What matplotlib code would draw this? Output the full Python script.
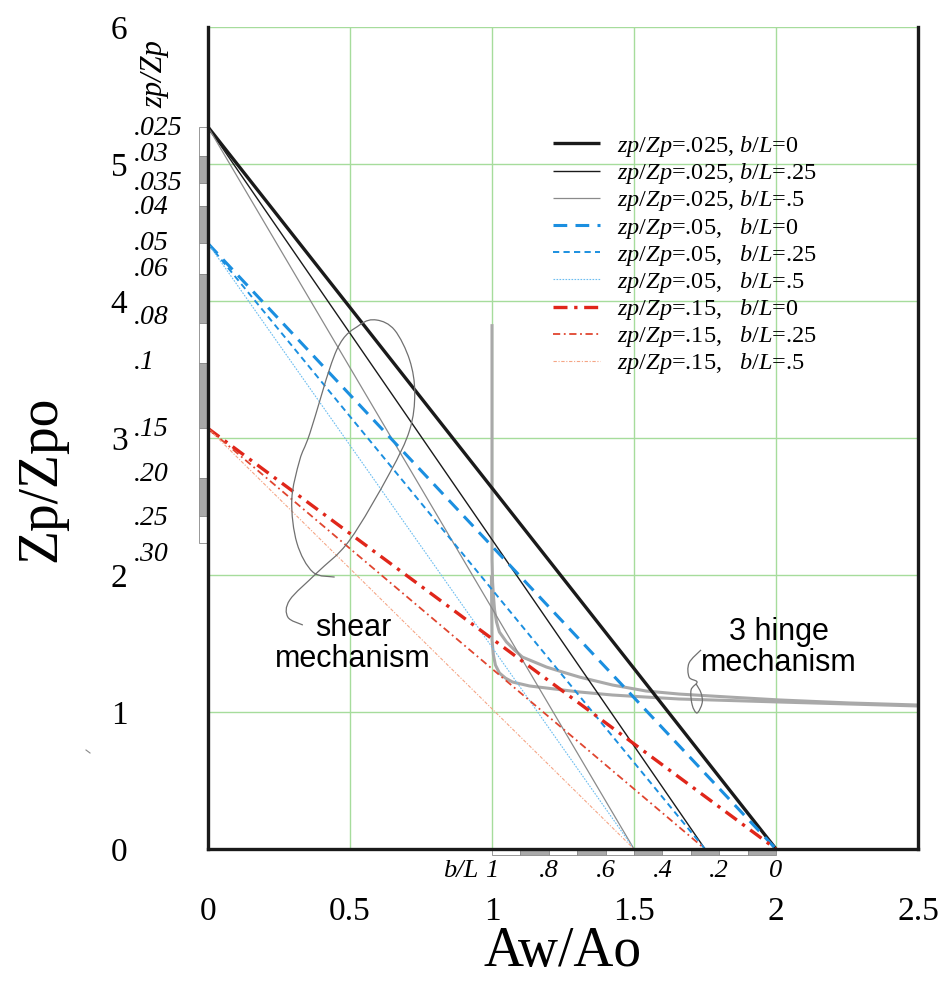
import numpy as np
import matplotlib
matplotlib.use("Agg")
import matplotlib.pyplot as plt
from matplotlib.lines import Line2D
from matplotlib.patches import Rectangle, PathPatch
from matplotlib.path import Path

plt.rcParams['font.family'] = ['Liberation Serif', 'DejaVu Serif']
plt.rcParams['mathtext.fontset'] = 'custom'
plt.rcParams['mathtext.it'] = 'Liberation Serif:italic'
plt.rcParams['mathtext.rm'] = 'Liberation Serif'

# ---------------- data ----------------
zp_ratio = [0.025, 0.05, 0.15]            # zp/Zp
zp_intercept = [5.27, 4.42, 3.07]         # Zp/Zpo at Aw/Ao = 0
bL_values = [0.0, 0.25, 0.5]              # b/L
bL_end = [2.0, 1.75, 1.5]                 # Aw/Ao where Zp/Zpo = 0

# 3 hinge mechanism curves
hinge_a_x = [1.0, 1.0, 1.002, 1.005, 1.009, 1.016, 1.026, 1.051, 1.079, 1.107, 1.149, 1.192,
             1.248, 1.308, 1.424, 1.543, 1.659, 1.835, 2.011, 2.257, 2.499]
hinge_a_y = [3.82, 2.11, 1.95, 1.85, 1.745, 1.657, 1.584, 1.511, 1.453, 1.401, 1.365, 1.328,
             1.292, 1.255, 1.197, 1.153, 1.131, 1.109, 1.088, 1.066, 1.051]
hinge_b_x = [0.998, 1.0, 1.005, 1.012, 1.026, 1.047, 1.072, 1.132, 1.192, 1.308, 1.424, 1.543,
             1.659, 2.011, 2.499]
hinge_b_y = [1.985, 1.526, 1.416, 1.343, 1.285, 1.248, 1.219, 1.190, 1.175, 1.146, 1.124, 1.109,
             1.095, 1.073, 1.044]

# left scale (zp/Zp) boundaries and labels
scale_zp = ['.025', '.03', '.035', '.04', '.05', '.06', '.08', '.1', '.15', '.20', '.25', '.30']
scale_bound = [5.27, 5.06, 4.86, 4.69, 4.42, 4.20, 3.84, 3.55, 3.07, 2.71, 2.43, 2.23]
scale_label_y = [5.26, 5.07, 4.86, 4.68, 4.42, 4.23, 3.88, 3.55, 3.06, 2.73, 2.41, 2.15]

# bottom scale (b/L)
bL_ticks = [1, 0.8, 0.6, 0.4, 0.2, 0]
bL_tick_labels = ['1', '.8', '.6', '.4', '.2', '0']

x_ticks = [0, 0.5, 1, 1.5, 2, 2.5]
x_tick_labels = ['0', '0.5', '1', '1.5', '2', '2.5']
y_ticks = [0, 1, 2, 3, 4, 5, 6]

# hand-drawn annotation loops (data units)
shear_loop = [(0.446, 1.985), (0.369, 2.022), (0.313, 2.234), (0.295, 2.547), (0.323, 2.839),
              (0.359, 3.036), (0.453, 3.642), (0.534, 3.825), (0.594, 3.861), (0.657, 3.788),
              (0.710, 3.569), (0.728, 3.328), (0.710, 3.058), (0.640, 2.745), (0.499, 2.255),
              (0.383, 2.015), (0.288, 1.818), (0.281, 1.693), (0.334, 1.635)]
hinge_loop = [(1.736, 1.453), (1.694, 1.358), (1.694, 1.255), (1.722, 1.219), (1.701, 1.161),
              (1.705, 1.051), (1.722, 0.993), (1.740, 1.066), (1.736, 1.139), (1.719, 1.204)]

# ---------------- styles ----------------
styles = {
    (0, 0): dict(color='#1a1a1a', lw=2.4, ls='-'),
    (0, 1): dict(color='#1a1a1a', lw=1.0, ls='-'),
    (0, 2): dict(color='#8a8a8a', lw=0.9, ls='-'),
    (1, 0): dict(color='#1b8fe0', lw=2.2, ls=(0, (4.5, 2.7))),
    (1, 1): dict(color='#1b8fe0', lw=1.4, ls=(0, (3.2, 2.2))),
    (1, 2): dict(color='#6cbdf0', lw=0.8, ls=(0, (1.5, 1.2))),
    (2, 0): dict(color='#e0261a', lw=2.4, ls=(0, (4.2, 2.0, 1.0, 2.0))),
    (2, 1): dict(color='#e0452f', lw=1.3, ls=(0, (4.0, 2.0, 1.0, 2.0))),
    (2, 2): dict(color='#f5a585', lw=0.8, ls=(0, (3.0, 1.5, 1.0, 1.5))),
}

fig = plt.figure(figsize=(9.45, 9.96), dpi=100)
ax = fig.add_axes([208/945, 147/996, 710/945, 822/996])
ax.set_xlim(0, 2.5)
ax.set_ylim(0, 6)

ax.set_xticks(x_ticks)
ax.set_xticklabels(x_tick_labels)
ax.set_yticks(y_ticks)
ax.tick_params(axis='both', length=0, labelsize=24)
ax.tick_params(axis='x', pad=34)
ax.tick_params(axis='y', pad=58)
ax.grid(True, color='#a6dc9c', lw=1.0, zorder=0)
ax.set_axisbelow(True)

for s in ['left', 'right', 'bottom']:
    ax.spines[s].set_linewidth(2.4)
    ax.spines[s].set_color('#1a1a1a')
    ax.spines[s].set_zorder(5)
ax.spines['top'].set_visible(False)

# lines
handles = []
labels = []
for i, zp in enumerate(zp_ratio):
    for j, bl in enumerate(bL_values):
        st = styles[(i, j)]
        ln, = ax.plot([0, bL_end[j]], [zp_intercept[i], 0], color=st['color'], lw=st['lw'],
                      linestyle=st['ls'], zorder=3, solid_capstyle='butt', dash_capstyle='butt')
        handles.append(ln)
        zps = ('%g' % zp).lstrip('0')
        bls = ('%g' % bl).lstrip('0') if bl != 0 else '0'
        if i == 0:
            lab = r'$zp/Zp$=' + zps + r', $b/L$=' + bls
        else:
            lab = r'$zp/Zp$=' + zps + r',   $b/L$=' + bls
        labels.append(lab)

# hinge curves
ax.plot(hinge_a_x, hinge_a_y, color='#a9a9a9', lw=2.2, zorder=2.5)
ax.plot(hinge_b_x, hinge_b_y, color='#a9a9a9', lw=2.2, zorder=2.5)

# legend
leg = ax.legend(handles, labels, loc='upper left', bbox_to_anchor=(553/945, 1 - 134/996),
                bbox_transform=fig.transFigure, frameon=False, fontsize=17.5,
                handlelength=1.95, handletextpad=0.7, labelspacing=0.09, borderaxespad=0,
                borderpad=0)

# left scale bar
bw = 9/284.5
for k in range(len(scale_bound) - 1):
    col = 'white' if k % 2 == 0 else '#a9a9a9'
    ax.add_patch(Rectangle((-bw, scale_bound[k+1]), bw, scale_bound[k] - scale_bound[k+1],
                           facecolor=col, edgecolor='#888888', lw=0.6, clip_on=False, zorder=4))
for lab, yv in zip(scale_zp, scale_label_y):
    ax.text(-0.262, yv, lab, ha='left', va='center', fontsize=20, fontstyle='italic',
            family='Liberation Serif')
ax.text(-0.188, 5.66, 'zp/Zp', rotation=90, ha='center', va='center', fontsize=22,
        fontstyle='italic', family='Liberation Serif')

# bottom scale bar
bh = 0.044
for k in range(10):
    x0 = 1.0 + 0.1*k
    col = 'white' if k % 2 == 0 else '#a9a9a9'
    ax.add_patch(Rectangle((x0, -bh), 0.1, bh, facecolor=col, edgecolor='#888888', lw=0.6,
                           clip_on=False, zorder=4))
for v, lab in zip(bL_ticks, bL_tick_labels):
    ax.text(2 - v, -0.16, lab, ha='center', va='center', fontsize=19, fontstyle='italic')
ax.text(0.89, -0.16, 'b/L', ha='center', va='center', fontsize=19, fontstyle='italic')

# axis labels
ax.set_xlabel('Aw/Ao', fontsize=40)
ax.set_ylabel('Zp/Zpo', fontsize=40)
ax.xaxis.set_label_coords(0.5, -0.094)
ax.yaxis.set_label_coords(-0.198, 0.45)


def smooth_path(pts):
    p = np.asarray(pts, dtype=float)
    n = len(p)
    verts = [p[0]]
    codes = [Path.MOVETO]
    for i in range(n - 1):
        p0 = p[i-1] if i > 0 else p[i]
        p1 = p[i]
        p2 = p[i+1]
        p3 = p[i+2] if i + 2 < n else p[i+1]
        c1 = p1 + (p2 - p0)/6
        c2 = p2 - (p3 - p1)/6
        verts += [c1, c2, p2]
        codes += [Path.CURVE4]*3
    return Path(verts, codes)


ax.add_patch(PathPatch(smooth_path(shear_loop), facecolor='none', edgecolor='#707070', lw=0.9, zorder=4))
ax.add_patch(PathPatch(smooth_path(hinge_loop), facecolor='none', edgecolor='#707070', lw=0.9, zorder=4))

ax.text(0.51, 1.50, 'shear\nmechanism', ha='center', va='center', fontsize=22,
        family='Liberation Sans', linespacing=1.05, zorder=6)
ax.text(2.01, 1.47, '3 hinge\nmechanism', ha='center', va='center', fontsize=22,
        family='Liberation Sans', linespacing=1.05, zorder=6)

# small stray mark at left margin
fig.add_artist(Line2D([86/945, 90/945], [1 - 750/996, 1 - 753/996], color='#888888', lw=0.8))

fig.savefig('out.png', dpi=100)
